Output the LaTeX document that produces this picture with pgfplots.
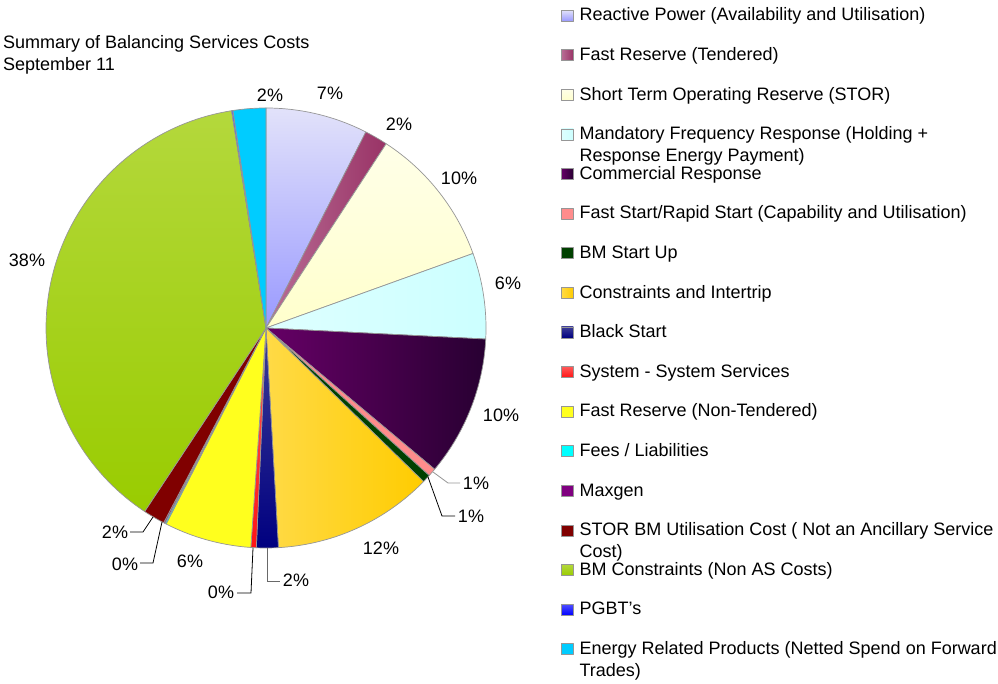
\documentclass[border=0pt]{standalone}
\usepackage{pgfplots}
\pgfplotsset{compat=1.18}
\usepackage{fontspec}
\setmainfont{Liberation Sans}
\definecolor{bgray}{RGB}{150,150,150}
\newcommand{\lab}{\fontsize{18}{22}\selectfont}
% slice: start percent, end percent, style
\newcommand{\slice}[3]{\addplot[#3, draw=bgray, line width=0.7pt, line join=round, domain=3.6*#1:3.6*#2, samples=90, variable=\t] ({266+220*sin(\t)},{356+220*cos(\t)}) -- (axis cs:266,356) -- cycle;}
\newcommand{\two}[2]{\begin{tabular}[t]{@{}l@{}}#1\\#2\end{tabular}}
\begin{document}
\begin{tikzpicture}
\begin{axis}[
  scale only axis, width=998pt, height=684pt,
  xmin=0, xmax=998, ymin=0, ymax=684,
  hide axis, clip=false,
  legend style={at={(axis cs:561,683)}, anchor=north west, draw=none, fill=none,
    inner sep=0pt, outer sep=0pt, row sep=0pt, column sep=6pt, font=\lab,
    nodes={inner sep=0pt, text height=20pt, text depth=19.6pt}},
  legend cell align=left,
  legend image code/.code={\path[#1, draw=bgray, line width=0.6pt] (0pt,-0.3pt) rectangle (12pt,10.7pt);},
]
\path (axis cs:0,0) rectangle (axis cs:998,684);
% values in percent (cumulative start, end)
\slice{0}{7.5}{top color={rgb,255:red,226;green,226;blue,250}, bottom color={rgb,255:red,153;green,153;blue,255}}
\addlegendentry{Reactive Power (Availability and Utilisation)}
\slice{7.5}{9.2}{left color={rgb,255:red,185;green,110;blue,150}, right color={rgb,255:red,153;green,51;blue,102}}
\addlegendentry{Fast Reserve (Tendered)}
\slice{9.2}{19.5}{top color={rgb,255:red,255;green,255;blue,232}, bottom color={rgb,255:red,255;green,255;blue,204}}
\addlegendentry{Short Term Operating Reserve (STOR)}
\slice{19.5}{25.8}{left color={rgb,255:red,222;green,255;blue,255}, right color={rgb,255:red,204;green,255;blue,255}}
\addlegendentry{\two{Mandatory Frequency Response (Holding +}{Response Energy Payment)}}
\slice{25.8}{36.1}{left color={rgb,255:red,102;green,0;blue,102}, right color={rgb,255:red,40;green,0;blue,50}}
\addlegendentry{Commercial Response}
\slice{36.1}{36.7}{fill={rgb,255:red,255;green,140;blue,140}}
\addlegendentry{Fast Start/Rapid Start (Capability and Utilisation)}
\slice{36.7}{37.3}{fill={rgb,255:red,0;green,64;blue,0}}
\addlegendentry{BM Start Up}
\slice{37.3}{49.1}{left color={rgb,255:red,255;green,218;blue,70}, right color={rgb,255:red,255;green,204;blue,0}}
\addlegendentry{Constraints and Intertrip}
\slice{49.1}{50.7}{top color={rgb,255:red,60;green,60;blue,150}, bottom color={rgb,255:red,0;green,0;blue,128}}
\addlegendentry{Black Start}
\slice{50.7}{51.1}{top color={rgb,255:red,255;green,90;blue,90}, bottom color={rgb,255:red,255;green,20;blue,20}}
\addlegendentry{System - System Services}
\slice{51.1}{57.5}{fill={rgb,255:red,255;green,255;blue,30}}
\addlegendentry{Fast Reserve (Non-Tendered)}
\slice{57.5}{57.6}{fill={rgb,255:red,0;green,255;blue,255}}
\addlegendentry{Fees / Liabilities}
\slice{57.6}{57.7}{fill={rgb,255:red,128;green,0;blue,128}}
\addlegendentry{Maxgen}
\slice{57.7}{59.3}{fill={rgb,255:red,128;green,0;blue,0}}
\addlegendentry{\two{STOR BM Utilisation Cost ( Not an Ancillary Service}{Cost)}}
\slice{59.3}{97.5}{top color={rgb,255:red,180;green,216;blue,60}, bottom color={rgb,255:red,153;green,204;blue,0}}
\addlegendentry{BM Constraints (Non AS Costs)}
\slice{97.5}{97.6}{top color={rgb,255:red,80;green,80;blue,255}, bottom color={rgb,255:red,0;green,0;blue,255}}
\addlegendentry{PGBT's}
\slice{97.6}{100}{fill={rgb,255:red,0;green,204;blue,255}}
\addlegendentry{\two{Energy Related Products (Netted Spend on Forward}{Trades)}}
% leader lines
\addplot[forget plot, bgray, line width=0.8pt] coordinates {(433,212) (448,201) (460,201)};
\addplot[forget plot, black, line width=0.8pt] coordinates {(428,207) (442,168) (455,168)};
\addplot[forget plot, bgray!70!black, line width=0.8pt] coordinates {(267,136) (267,103) (280,103)};
\addplot[forget plot, black, line width=0.8pt] coordinates {(253,136) (251,91) (237,91)};
\addplot[forget plot, black, line width=0.8pt] coordinates {(162,162) (153,121) (140,121)};
\addplot[forget plot, black, line width=0.8pt] coordinates {(153,167) (143,152) (130,152)};
% percentage labels
\node[font=\lab, anchor=base] at (axis cs:270,582) {2\%};
\node[font=\lab, anchor=base] at (axis cs:330,584) {7\%};
\node[font=\lab, anchor=base] at (axis cs:399,553) {2\%};
\node[font=\lab, anchor=base] at (axis cs:459,499) {10\%};
\node[font=\lab, anchor=base] at (axis cs:508,394) {6\%};
\node[font=\lab, anchor=base] at (axis cs:501,262) {10\%};
\node[font=\lab, anchor=base] at (axis cs:476,194) {1\%};
\node[font=\lab, anchor=base] at (axis cs:471,161) {1\%};
\node[font=\lab, anchor=base] at (axis cs:381,129) {12\%};
\node[font=\lab, anchor=base] at (axis cs:296,97) {2\%};
\node[font=\lab, anchor=base] at (axis cs:221,85) {0\%};
\node[font=\lab, anchor=base] at (axis cs:190,116) {6\%};
\node[font=\lab, anchor=base] at (axis cs:125,113) {0\%};
\node[font=\lab, anchor=base] at (axis cs:115,145) {2\%};
\node[font=\lab, anchor=base] at (axis cs:27,417) {38\%};
% title
\node[font=\lab, anchor=base west, inner sep=0pt] at (axis cs:3,635) {Summary of Balancing Services Costs};
\node[font=\lab, anchor=base west, inner sep=0pt] at (axis cs:3,613.5) {September 11};
\end{axis}
\end{tikzpicture}
\end{document}
